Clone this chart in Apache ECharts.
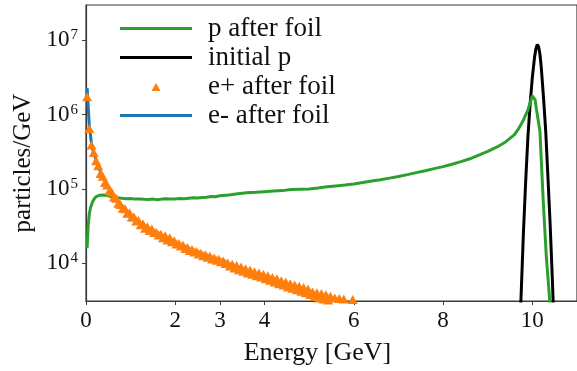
<!DOCTYPE html>
<html>
<head>
<meta charset="utf-8">
<script src="https://cdn.jsdelivr.net/npm/echarts@6/dist/echarts.min.js"></script>
<style>
  html, body { margin: 0; padding: 0; background: #fff; }
  #chart { width: 577px; height: 371px; }
</style>
</head>
<body>
<div id="chart"></div>
<script>
// Energy spectra after the foil, particles per GeV on a log scale.

const xTicks = [0, 2, 3, 4, 6, 8, 10];
const yTicks = [1e4, 1e5, 1e6, 1e7];

// protons after the foil [GeV, particles/GeV]
const pAfterFoil = [
  [0.025, 1.6e4], [0.05, 3.3e4], [0.075, 4.6e4], [0.1, 5.6e4], [0.15, 6.8e4],
  [0.2, 7.6e4], [0.25, 8.0e4], [0.3, 8.2e4], [0.4, 8.3e4], [0.5, 8.1e4],
  [0.6, 7.8e4], [0.7, 7.6e4], [0.8, 7.5e4], [0.9, 7.4e4], [1.0, 7.45e4],
  [1.1, 7.3e4], [1.2, 7.35e4], [1.3, 7.25e4], [1.4, 7.2e4], [1.5, 7.3e4],
  [1.6, 7.15e4], [1.7, 7.3e4], [1.8, 7.4e4], [1.9, 7.3e4], [2.0, 7.35e4],
  [2.1, 7.45e4], [2.2, 7.4e4], [2.3, 7.5e4], [2.4, 7.6e4], [2.5, 7.55e4],
  [2.6, 7.7e4], [2.7, 7.75e4], [2.8, 7.9e4], [2.9, 7.85e4], [3.0, 8.1e4],
  [3.2, 8.3e4], [3.4, 8.6e4], [3.6, 8.9e4], [3.8, 9.0e4], [4.0, 9.2e4],
  [4.2, 9.4e4], [4.4, 9.5e4], [4.6, 9.8e4], [4.8, 9.9e4], [5.0, 1.0e5],
  [5.2, 1.03e5], [5.4, 1.07e5], [5.6, 1.1e5], [5.8, 1.13e5], [6.0, 1.17e5],
  [6.2, 1.22e5], [6.4, 1.28e5], [6.6, 1.33e5], [6.8, 1.4e5], [7.0, 1.47e5],
  [7.2, 1.56e5], [7.4, 1.66e5], [7.6, 1.76e5], [7.8, 1.88e5], [8.0, 2.0e5],
  [8.2, 2.15e5], [8.4, 2.33e5], [8.6, 2.55e5], [8.8, 2.85e5], [9.0, 3.2e5],
  [9.2, 3.65e5], [9.4, 4.3e5], [9.6, 5.4e5], [9.7, 6.6e5], [9.8, 8.5e5],
  [9.9, 1.15e6], [9.95, 1.45e6], [10.0, 1.8e6], [10.03, 1.85e6], [10.06, 1.6e6],
  [10.09, 1.2e6], [10.13, 8.5e5], [10.17, 5.9e5], [10.24, 7.6e4], [10.31, 1.3e4],
  [10.39, 3.1e3], [10.45, 1.0e3]
];

// initial proton beam
const pInitial = [
  [9.65, 150], [9.70, 630], [9.75, 4000], [9.80, 2.6e4], [9.85, 1.25e5],
  [9.90, 5.0e5], [9.95, 1.4e6], [10.00, 3.2e6], [10.05, 6.0e6], [10.08, 7.8e6],
  [10.11, 8.8e6], [10.14, 8.2e6], [10.17, 6.5e6], [10.20, 4.3e6], [10.25, 1.7e6],
  [10.30, 5.9e5], [10.35, 1.4e5], [10.40, 3.2e4], [10.45, 5.6e3], [10.50, 800]
];

// positrons after the foil
const ePlusAfterFoil = [
  [0.025, 1.74e6], [0.075, 6.5e5], [0.125, 3.9e5], [0.175, 3.1e5], [0.225, 2.4e5],
  [0.275, 2.05e5], [0.325, 1.62e5], [0.375, 1.48e5], [0.425, 1.22e5], [0.475, 1.13e5],
  [0.525, 9.5e4], [0.575, 9.1e4], [0.625, 7.8e4], [0.675, 7.5e4], [0.725, 6.4e4],
  [0.775, 6.2e4], [0.825, 5.5e4], [0.875, 5.4e4], [0.925, 4.7e4], [0.975, 4.8e4],
  [1.025, 4.2e4], [1.075, 4.2e4], [1.125, 3.7e4], [1.175, 3.75e4], [1.225, 3.3e4],
  [1.275, 3.4e4], [1.325, 2.95e4], [1.375, 3.1e4], [1.425, 2.75e4], [1.475, 2.9e4],
  [1.525, 2.6e4], [1.575, 2.6e4], [1.625, 2.4e4], [1.675, 2.45e4], [1.725, 2.2e4],
  [1.775, 2.35e4], [1.825, 2.05e4], [1.875, 2.2e4], [1.925, 1.95e4], [1.975, 2.0e4],
  [2.025, 1.82e4], [2.075, 1.85e4], [2.125, 1.7e4], [2.175, 1.74e4], [2.225, 1.58e4],
  [2.275, 1.63e4], [2.325, 1.48e4], [2.375, 1.53e4], [2.425, 1.42e4], [2.475, 1.44e4],
  [2.525, 1.33e4], [2.575, 1.36e4], [2.625, 1.26e4], [2.675, 1.3e4], [2.725, 1.2e4],
  [2.775, 1.24e4], [2.825, 1.14e4], [2.875, 1.18e4], [2.925, 1.1e4], [2.975, 1.13e4],
  [3.025, 1.05e4], [3.075, 1.07e4], [3.125, 9.9e3], [3.175, 1.01e4], [3.225, 9.2e3],
  [3.275, 9.7e3], [3.325, 8.6e3], [3.375, 9.3e3], [3.425, 8.2e3], [3.475, 8.9e3],
  [3.525, 7.8e3], [3.575, 8.4e3], [3.625, 7.4e3], [3.675, 8.1e3], [3.725, 7.1e3],
  [3.775, 7.7e3], [3.825, 6.8e3], [3.875, 7.4e3], [3.925, 6.5e3], [3.975, 7.1e3],
  [4.025, 6.2e3], [4.075, 6.8e3], [4.125, 5.9e3], [4.175, 6.4e3], [4.225, 5.6e3],
  [4.275, 6.2e3], [4.325, 5.3e3], [4.375, 5.8e3], [4.425, 5.1e3], [4.475, 5.6e3],
  [4.525, 4.8e3], [4.575, 5.3e3], [4.625, 4.6e3], [4.675, 5.1e3], [4.725, 4.4e3],
  [4.775, 4.9e3], [4.825, 4.2e3], [4.875, 4.7e3], [4.925, 4.0e3], [4.975, 4.5e3],
  [5.025, 3.8e3], [5.075, 4.1e3], [5.125, 3.6e3], [5.175, 4.0e3], [5.225, 3.4e3],
  [5.275, 3.9e3], [5.325, 3.3e3], [5.375, 3.75e3], [5.425, 3.2e3], [5.475, 3.6e3],
  [5.525, 3.05e3], [5.575, 3.4e3], [5.625, 2.9e3], [5.675, 3.35e3], [5.725, 2.85e3],
  [5.775, 3.3e3], [5.825, 2.8e3], [5.875, 3.0e3], [5.925, 2.7e3], [5.975, 3.25e3],
  [6.025, 2.5e3]
];

// electrons after the foil
const eMinusAfterFoil = [
  [0.025, 2.3e6], [0.075, 7.0e5], [0.125, 4.0e5], [0.175, 3.0e5], [0.225, 2.5e5],
  [0.3, 1.85e5], [0.4, 1.36e5], [0.5, 1.05e5], [0.6, 8.5e4], [0.7, 7.0e4],
  [0.8, 5.8e4], [0.9, 5.0e4], [1.0, 4.5e4], [1.1, 3.9e4], [1.2, 3.5e4],
  [1.3, 3.2e4], [1.4, 2.95e4], [1.5, 2.75e4], [1.6, 2.55e4], [1.7, 2.35e4],
  [1.8, 2.2e4], [1.9, 2.05e4], [2.0, 1.9e4], [2.1, 1.8e4], [2.2, 1.68e4],
  [2.3, 1.55e4], [2.4, 1.5e4], [2.5, 1.45e4], [2.6, 1.33e4], [2.7, 1.26e4],
  [2.8, 1.2e4], [2.9, 1.14e4], [3.0, 1.1e4], [3.1, 1.03e4], [3.2, 9.8e3],
  [3.3, 9.2e3], [3.4, 9.0e3], [3.5, 8.6e3], [3.6, 8.0e3], [3.7, 7.6e3],
  [3.8, 7.3e3], [3.9, 7.0e3], [4.0, 6.8e3], [4.1, 6.3e3], [4.2, 6.0e3],
  [4.3, 5.8e3], [4.4, 5.5e3], [4.5, 5.2e3], [4.6, 5.0e3], [4.7, 4.8e3],
  [4.8, 4.7e3], [4.9, 4.4e3], [5.0, 4.1e3], [5.1, 3.9e3], [5.2, 3.7e3],
  [5.3, 3.55e3], [5.4, 3.4e3], [5.5, 3.25e3], [5.6, 3.1e3], [5.7, 3.2e3],
  [5.8, 3.0e3], [5.9, 2.8e3]
];

const FONT = 'Liberation Serif';
const AXIS_COLOR = '#3a3a3a';
const TEXT_COLOR = '#111111';

// Legend glyphs: a short thick bar for lines, a small triangle for the scatter.
// Both paths span the full 72x14 legend box so they are drawn at 1:1 scale.
const LINE_ICON = 'path://M0,0L0,0M0,5.5L72,5.5L72,8.5L0,8.5ZM72,14L72,14';
const TRIANGLE_ICON = 'path://M0,0L0,0M31.5,11.5L36,3.5L40.5,11.5ZM72,14L72,14';

const chart = echarts.init(document.getElementById('chart'), null, { renderer: 'canvas' });

chart.setOption({
  animation: false,
  backgroundColor: '#ffffff',
  textStyle: { fontFamily: FONT },
  grid: {
    left: 86, right: -2, top: 5, bottom: 67,
    show: true, borderColor: AXIS_COLOR, borderWidth: 1.2, backgroundColor: 'transparent'
  },
  legend: {
    orient: 'vertical',
    left: 120, top: 15, padding: 0,
    itemWidth: 72, itemHeight: 14, itemGap: 2,
    itemStyle: { borderWidth: 0 },
    textStyle: { fontFamily: FONT, fontSize: 27, lineHeight: 22, color: TEXT_COLOR, padding: [0, 0, 0, 11] },
    data: [
      { name: 'p after foil', icon: LINE_ICON },
      { name: 'initial p', icon: LINE_ICON },
      { name: 'e+ after foil', icon: TRIANGLE_ICON },
      { name: 'e- after foil', icon: LINE_ICON }
    ]
  },
  xAxis: {
    type: 'value',
    min: 0, max: 11,
    name: 'Energy [GeV]',
    nameLocation: 'middle',
    nameGap: 39,
    nameTextStyle: { fontFamily: FONT, fontSize: 26, color: TEXT_COLOR, padding: [0, 28, 0, 0] },
    axisLine: { show: true, onZero: false, lineStyle: { color: AXIS_COLOR, width: 1.2 } },
    axisTick: { show: true, inside: false, length: 4, customValues: xTicks, lineStyle: { color: AXIS_COLOR } },
    axisLabel: { customValues: xTicks, margin: 8, fontFamily: FONT, fontSize: 23, color: TEXT_COLOR },
    splitLine: { show: false }
  },
  yAxis: {
    type: 'log',
    logBase: 10,
    min: 3100, max: 3e7,
    name: 'particles/GeV',
    nameLocation: 'middle',
    nameGap: 49,
    nameTextStyle: { fontFamily: FONT, fontSize: 25, color: TEXT_COLOR, padding: [0, 20, 0, 0] },
    axisLine: { show: true, lineStyle: { color: AXIS_COLOR, width: 1.2 } },
    axisTick: { show: true, inside: false, length: 4, customValues: yTicks, lineStyle: { color: AXIS_COLOR } },
    axisLabel: {
      customValues: yTicks,
      margin: 8,
      fontFamily: FONT, fontSize: 23, color: TEXT_COLOR,
      formatter: v => '10{sup|' + Math.round(Math.log10(v)) + '}',
      rich: {
        sup: { fontFamily: FONT, fontSize: 15, color: TEXT_COLOR, verticalAlign: 'bottom', padding: [0, 0, 10, 1] }
      }
    },
    splitLine: { show: false }
  },
  series: [
    {
      name: 'initial p', type: 'line', data: pInitial,
      showSymbol: false, symbol: 'none', clip: true, z: 2,
      lineStyle: { color: '#000000', width: 3 }, itemStyle: { color: '#000000' }
    },
    {
      name: 'e- after foil', type: 'line', data: eMinusAfterFoil,
      showSymbol: false, symbol: 'none', clip: true, z: 3,
      lineStyle: { color: '#1f77b4', width: 3 }, itemStyle: { color: '#1f77b4' }
    },
    {
      name: 'p after foil', type: 'line', data: pAfterFoil,
      showSymbol: false, symbol: 'none', clip: true, z: 4,
      lineStyle: { color: '#2ca02c', width: 3 }, itemStyle: { color: '#2ca02c' }
    },
    {
      name: 'e+ after foil', type: 'scatter', data: ePlusAfterFoil,
      symbol: 'triangle', symbolSize: [10, 9], clip: true, z: 5,
      itemStyle: { color: '#ff7f0e', opacity: 1 }
    }
  ]
});
</script>
</body>
</html>
